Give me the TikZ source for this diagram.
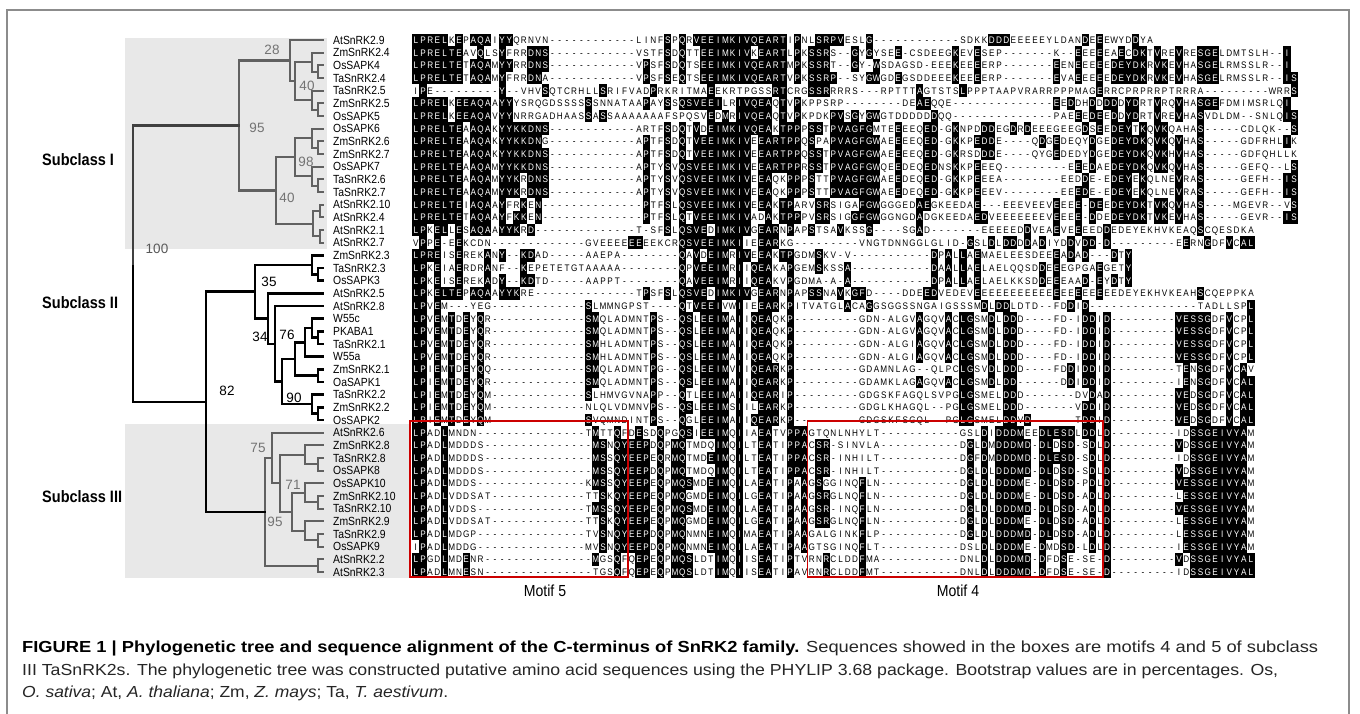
\documentclass[tikz,border=0pt]{standalone}
\usepackage{fontspec}
\usepackage{graphicx}
\setmainfont{Liberation Sans}
\newfontfamily\alnfont{Liberation Sans}[FakeStretch=0.86]
\newfontfamily\narrowfont{Liberation Sans}[FakeStretch=0.88]

\newcommand\alnw{7.2pt}
\newcommand\alnh{9.71pt}
\newcommand\alnd{2.96pt}
\newcommand\alnthresh{8}
\newcommand\alnon[1]{\hbox to \alnw{\vrule width \alnw height \alnh depth \alnd\kern-\alnw\hss\textcolor{white}{#1}\hss}}
\newcommand\alnoff[1]{\hbox to \alnw{\vrule width 0pt height \alnh depth \alnd\hss #1\hss}}

\ExplSyntaxOn
\cs_generate_variant:Nn \prop_put:Nnn { NVV }
\seq_new:N \g_aln_rows_seq
\str_new:N \l_aln_row_str
\seq_new:N \l_aln_segs_seq
\seq_new:N \l_aln_pair_seq
\int_new:N \g_aln_ncol_int
\int_new:N \l_aln_target_int
\int_new:N \l_aln_max_int
\int_new:N \l_aln_col_int
\tl_new:N \l_aln_best_tl
\tl_new:N \l_aln_ch_tl
\tl_new:N \l_aln_cnt_tl
\prop_new:N \l_aln_cnt_prop
\NewDocumentCommand \alnrow { m }
 {
  \str_clear:N \l_aln_row_str
  \seq_set_split:Nnn \l_aln_segs_seq { , } { #1 }
  \seq_map_inline:Nn \l_aln_segs_seq
   {
    \seq_set_split:Nnn \l_aln_pair_seq { / } { ##1 }
    \int_set:Nn \l_aln_target_int { \seq_item:Nn \l_aln_pair_seq { 1 } }
    \int_while_do:nNnn { \str_count:N \l_aln_row_str } < { \l_aln_target_int }
     { \str_put_right:Nn \l_aln_row_str { - } }
    \str_put_right:Nx \l_aln_row_str { \seq_item:Nn \l_aln_pair_seq { 2 } }
   }
  \seq_gput_right:NV \g_aln_rows_seq \l_aln_row_str
  \int_compare:nNnT { \str_count:N \l_aln_row_str } > { \g_aln_ncol_int }
   { \int_gset:Nn \g_aln_ncol_int { \str_count:N \l_aln_row_str } }
 }
\NewDocumentCommand \alncompute { }
 {
  \int_step_inline:nn { \g_aln_ncol_int }
   {
    \prop_clear:N \l_aln_cnt_prop
    \int_zero:N \l_aln_max_int
    \tl_clear:N \l_aln_best_tl
    \seq_map_inline:Nn \g_aln_rows_seq
     {
      \tl_set:Nx \l_aln_ch_tl { \str_item:nn { ####1 } { ##1 } }
      \tl_if_empty:NF \l_aln_ch_tl
       {
        \str_if_eq:VnF \l_aln_ch_tl { - }
         {
          \prop_get:NVNF \l_aln_cnt_prop \l_aln_ch_tl \l_aln_cnt_tl
           { \tl_set:Nn \l_aln_cnt_tl { 0 } }
          \tl_set:Nx \l_aln_cnt_tl { \int_eval:n { \l_aln_cnt_tl + 1 } }
          \prop_put:NVV \l_aln_cnt_prop \l_aln_ch_tl \l_aln_cnt_tl
          \int_compare:nNnT { \l_aln_cnt_tl } > { \l_aln_max_int }
           {
            \int_set:Nn \l_aln_max_int { \l_aln_cnt_tl }
            \tl_set_eq:NN \l_aln_best_tl \l_aln_ch_tl
           }
         }
       }
     }
    \tl_gclear_new:c { g_aln_cons_ ##1 _tl }
    \int_compare:nNnT { \l_aln_max_int } > { \alnthresh - 1 }
     { \tl_gset_eq:cN { g_aln_cons_ ##1 _tl } \l_aln_best_tl }
   }
 }
\NewDocumentCommand \alnshow { m }
 {
  \str_set:Nx \l_aln_row_str { \seq_item:Nn \g_aln_rows_seq { #1 } }
  \int_zero:N \l_aln_col_int
  \str_map_inline:Nn \l_aln_row_str
   {
    \int_incr:N \l_aln_col_int
    \tl_set_eq:Nc \l_aln_best_tl { g_aln_cons_ \int_use:N \l_aln_col_int _tl }
    \str_if_eq:nVTF { ##1 } \l_aln_best_tl
     { \alnon { ##1 } }
     { \alnoff { ##1 } }
   }
 }
\ExplSyntaxOff

% ---------- alignment data (col/text) ----------
\alnrow{0/LPRELKEPAQAIYYQRNVN,31/LINFSPQRVEEI,43/MKIVQEARTIPNLSRPVESLG,76/SDKKDDDE,84/EEEEYLDANDEEEWYDDYA}
\alnrow{0/LPRELTEAVQLSYFRRDNS,31/VSTFSDQTTEEI,43/MKIVKEARTLPKSSRS,61/GYGYSEE,69/CSDEEGKEVESEP,89/K,92/EEEEEAECDKTVREVRESGELDMTSLH,121/I}
\alnrow{0/LPRELTETAQAMYYRRDNS,31/VPSFSDQTSEEI,43/MKIVQEARTMPKSSRT,61/GY,64/WSDAGSD,72/EEEKEEEERP,89/EENEEEEEDEYDKRVKEVHASGELRMSSLR,121/I}
\alnrow{0/LPRELTETAQAMYFRRDNA,31/VPSFSEQTSEEI,43/MKIVQEARTVPKSSRP,61/SYGWGDEGSDDEEEKEEEERP,89/EVAEEEEEDEYDKRVKEVHASGELRMSSLR,121/IS}
\alnrow{0/IPE,12/Y,15/VHVSQTCRHLLSRIFVADPRKRITMAEE,43/KRTPGSSRTCRGSSRRRRS,65/RPTTTAGTSTSLPPPTAAPVRARRPPPMAGERRCPRPRRPTRRRA,119/WRRS}
\alnrow{0/LPRELKEEAQAAYYYSRQGDSSSSSSNNATAAPAYSSQSVEEI,43/LRIVQEAQTVPKPPSRP,68/DEAEQQE,89/EEDDHDDDDDYDRTVRQVHASGEFDMIMSRLQI}
\alnrow{0/LPRELKEEAQAVYYNRRGADHAASSASSAAAAAAAFSPQSVED,43/MRIVQEAQTVPKPDKPVSGYGWGTDDDDDDQQ,89/PAEEEDEEDDYDRTVREVHASVDLDM,117/SNLQIS}
\alnrow{0/LPRELTEAAQAKYYKKDNS,31/ARTFSDQTVDEI,43/MKIVQEAKTPPPSSTPVAGFGMTEEEEQED,74/GKNPDDDEGDRDEEEGEEGDSEEDEYTKQVKQAHAS,115/CDLQK,122/S}
\alnrow{0/LPRELTEAAQAKYYKKDNG,31/APTFSDQTVEEI,43/MKIVEEARTPPQSPAPVAGFGWAEEEEQED,74/GKKPEDDE,86/QDGEDEQYDGEDEYDKQVKQVHAS,115/GDFRHLIK}
\alnrow{0/LPRELTEAAQAKYYKKDNS,31/APTFSDQTVEEI,43/MKIVEEARTPPQSSTPVAGFGWAEEEEQED,74/GKRSDDDE,86/QYGEDEDYDGEDEYDKQVKHVHAS,115/GDFQHLLK}
\alnrow{0/LPRELTEAAQAMYYKKDNS,31/APTYSVQSVEEI,43/MKIVEEARTPPRSSTPVAGFGWQEEDEQEDNSKKPEEEQ,91/EEEDAEDEYDKQVKQVHAS,115/GEFQ,121/LS}
\alnrow{0/LPRELTEAAQAMYYKRDNS,31/APTYSVQSVEEI,43/MKIVEEAQKPPPSTTPVAGFGWAEEDEQED,74/GKKPEEEA,90/EEDDE-EDEYEKQLNEVRAS,115/GEFH,121/IS}
\alnrow{0/LPRELTEAAQAMYYKRDNS,31/APTYSVQSVEEI,43/MKIVEEAQKPPPSTTPVAGFGWAEEDEQED,74/GKKPEEEV,90/EEEDE-EDEYEKQLNEVRAS,115/GEFH,121/IS}
\alnrow{0/LPRELTEIAQAAYFRKEN,32/PTFSLQSVEEI,43/MKIVEEAKTPARVSRSIGAFGWGGGEDAEGKEEDAE,82/EEEVEEVEEEE-DEEDEYDKTVKQVHAS,114/MGEVR,121/VS}
\alnrow{0/LPRELTETAQAAYFKKEN,32/PTFSLQTVEEI,43/MKIVADAKTPPPVSRSIGGFGWGGNGDADGKEEDAEDVEEE,84/EEEEVEEEE-DDEDEYDKTVKEVHAS,115/GEVR,121/IS}
\alnrow{0/LPKELLESAQAAYYKRD,31/T-SFSLQSVEDI,43/MKIVGEARNPAPSTSAVKSSG,68/SGAD,79/EEEEEDDVEAEVEEEEDDEDEYEKHVKEAQSCQESDKA}
\alnrow{0/VPPE-EEKCDN,24/GVEEEEEEEEKCRQSVEEI,43/MKIIEEARKG,62/VNGTDNNGGLGLID,77/GSLDLDDDDADIYDDVDD-D,106/EERNGDFVCAL}
\alnrow{0/LPREISEREKANY,15/KDAD,24/AAEPA,37/QAVDEI,43/MRIVEEAKTPGDMSKV,60/V,72/DPALLAEMAELEESDEEEADAD,97/DTY}
\alnrow{0/LPKEIAERDRANF,15/KEPETETGTAAAAA,37/QPVEEI,43/MRIIQEAKAPGEMSKSSA,72/DAALLAELAELQQSDDEEEGPGAEGETY}
\alnrow{0/LPKEISEREKADY,15/KDTD,24/AAPPT,37/QAVEEI,43/MRIIQEAKVPGDMA-A-A,72/DPALLAELAELKKSDDEEEAAD-EYDTY}
\alnrow{0/LPKELTEPAQAAYYKRE,31/TPSFSLQSVEDI,43/MKIVGEARNPAPSSNAVKGFD,68/DDEEDVEDEVEEEEEE,84/EEEEEEEEEEEEEEDEYEKHVKEAHSCQEPPKA}
\alnrow{0/LPVEM,8/YEG,24/SLMMNGPST,37/QTVEEI,43/VWIIEEARKPITVATGLACAGGSGGSSNGAIGSSSMDLDDL,84/DTD--FDDID,109/TADLLSPL}
\alnrow{0/LPVEMTDEYQR,24/SMQLADMNTPS,37/QSLEEI,43/MAIIQEAQKP,62/GDN-ALGVAGQVACLGSMDLDDD,89/FD-IDDID,106/VESSGDFVCPL}
\alnrow{0/LPVEMTDEYQR,24/SMQLADMNTPS,37/QSLEEI,43/MAIIQEAQKP,62/GDN-ALGVAGQVACLGSMDLDDD,89/FD-IDDID,106/VESSGDFVCPL}
\alnrow{0/LPVEMTDEYQR,24/SMHLADMNTPS,37/QSLEEI,43/MAIIQEAQKP,62/GDN-ALGIAGQVACLGSMDLDDD,89/FD-IDDID,106/VESSGDFVCPL}
\alnrow{0/LPVEMTDEYQR,24/SMHLADMNTPS,37/QSLEEI,43/MAIIQEAQKP,62/GDN-ALGIAGQVACLGSMDLDDD,89/FD-IDDID,106/VESSGDFVCPL}
\alnrow{0/LPIEMTDEYQQ,24/SMQLADMNTPG,37/QSLEEI,43/MVIIQEARKP,62/GDAMNLAG--QLPCLGSVDLDDD,89/FDDIDDID,106/TENSGDFVCAV}
\alnrow{0/LPIEMTDEYQR,24/SMQLADMNTPS,37/QSLEEI,43/MAIIQEARKP,62/GDAMKLAGAGQVACLGSMDLDD,90/DDIDDID,106/IENSGDFVCAL}
\alnrow{0/LPIEMTDEYQM,24/SLHMVGVNAPP,37/QTLEEI,43/MAIIQEARIP,62/GDGSKFAGQLSVPGLGSMELDDD,92/DVDAD,106/VEDSGDFVCAL}
\alnrow{0/LPIEMTDEYQM,24/NLQLVDMNVPS,37/QSLEEI,43/MSIILEARKP,62/GDGLKHAGQL--PGLGSMELDDD,92/VDDID,106/VEDSGDFVCAL}
\alnrow{0/LPIEMTDEYQM,24/SVQMNDINTPS,37/QGLEEI,43/MAIIQEARKP,62/GDGSKFSGQL--PGLGSMELDDVD,92/TDDID,106/VEDSGDFVCAL}
\alnrow{0/LPADLMNDN,24/TMTTQFDESDQPGQSIEEI,43/MQIIAEATVPPAGTQNLNHYLT,76/GSLDIDDDMEEDLESDLDDLD,106/IDSSGEIVYAM}
\alnrow{0/LPADLMDDDS,25/MSNQYEEPDQPMQTMDQI,43/MQILTEATIPPACSR-SINVLA,76/DGLDMDDDMD-DLDSD-SDLD,106/VDSSGEIVYAM}
\alnrow{0/LPADLMDDDS,25/MSSQYEEPEQRMQTMDEI,43/MQILTEATIPPACSR-INHILT,76/DGFDMDDDMD-DLESD-SDLD,106/IDSSGEIVYAM}
\alnrow{0/LPADLMDDDS,25/MSSQYEEPDQPMQTMDQI,43/MQILTEATIPPACSR-INHILT,76/DGLDLDDDMD-DLDSD-SDLD,106/VDSSGEIVYAM}
\alnrow{0/LPADLMDDS,24/KMSSQYEEPEQPMQSMDEI,43/MQILAEATIPAAGSGGINQFLN,76/DGLDLDDDME-DLDSD-PDLD,106/VESSGEIVYAM}
\alnrow{0/LPADLVDDSAT,24/TTSKQYEEPEQPMQGMDEI,43/MQILGEATIPAAGSRGLNQFLN,76/DGLDLDDDME-DLDSD-ADLD,106/LESSGEIVYAM}
\alnrow{0/LPADLVDDS,24/TMSSQYEEPEQPMQSMDEI,43/MQILAEATIPAAGSR-INQFLN,76/DGLDLDDDMD-DLDSD-ADLD,106/VESSGEIVYAM}
\alnrow{0/LPADLVDDSAT,24/TTSKQYEEPEQPMQGMDEI,43/MQILGEATIPAAGSRGLNQFLN,76/DGLDLDDDME-DLDSD-ADLD,106/LESSGEIVYAM}
\alnrow{0/LPADLMDGP,24/TVSNQYEEPDQPMQNMNEI,43/MQIMAEATIPAAGALGINKFLP,76/DGLDLDDDMD-DLDSD-ADLD,106/LESSGEIVYAM}
\alnrow{0/IPADLMDDG,24/MVSNQYEEPDQPMQNMNEI,43/MQILAEATIPAAGTSGINQFLT,76/DSLDLDDDME-DMDSD-LDLD,106/IESSGEIVYAM}
\alnrow{0/LPGDLMDENR,25/MGSQFQEPEQPMQSLDTI,43/MQIISEATIPTVRNRCLDDFMA,76/DNLDLDDDMD-DFDSE-SE-D,106/VDSSGEIVYAL}
\alnrow{0/LPADLMNESN,25/TGSQFQEPEQPMQSLDTI,43/MQIISEATIPAVRNRCLDDFMT,76/DNLDLDDDMD-DFDSE-SE-D,106/IDSSGEIVYAL}
\alncompute

\tikzset{
  brI/.style={draw=black!62, line width=2.2pt, line cap=rect},
  brII/.style={draw=black, line width=2.6pt, line cap=rect},
  taxon/.style={anchor=west, inner sep=0pt, font=\narrowfont\fontsize{11.8}{12}\selectfont},
  alnline/.style={anchor=west, inner sep=0pt, font=\alnfont\fontsize{9.5}{10}\selectfont},
  bsI/.style={inner sep=0pt, text=black!55, font=\fontsize{13.5}{14}\selectfont},
  bsII/.style={inner sep=0pt, text=black, font=\fontsize{13.5}{14}\selectfont},
  subcl/.style={anchor=west, inner sep=0pt, font=\narrowfont\bfseries\fontsize{16.5}{17}\selectfont},
  motifbox/.style={draw=red!80!black, line width=1.2pt, inner sep=0pt},
  motiflbl/.style={inner sep=0pt, font=\narrowfont\fontsize{16}{17}\selectfont},
  capline/.style={anchor=base west, inner sep=0pt, text=black!85, font=\fontsize{16}{17}\selectfont},
  shade/.style={fill=black!9, draw=none},
  framec/.style={draw=black!45, line width=1.5pt}
}

\begin{document}
\begin{tikzpicture}[x=1pt, y=-1pt, line join=miter]
\useasboundingbox (0,0) rectangle (1360,713);
\fill[white] (0,0) rectangle (1360,713);

% subclass shading
\fill[shade] (125,38) rectangle (327,249);
\fill[shade] (125,424) rectangle (410,578);

% leaves, labels, alignment rows
\foreach \i/\nm in {1/AtSnRK2.9,2/ZmSnRK2.4,3/OsSAPK4,4/TaSnRK2.4,5/TaSnRK2.5,6/ZmSnRK2.5,7/OsSAPK5,8/OsSAPK6,9/ZmSnRK2.6,10/ZmSnRK2.7,11/OsSAPK7,12/TaSnRK2.6,13/TaSnRK2.7,14/AtSnRK2.10,15/AtSnRK2.4,16/AtSnRK2.1,17/AtSnRK2.7,18/ZmSnRK2.3,19/TaSnRK2.3,20/OsSAPK3,21/AtSnRK2.5,22/AtSnRK2.8,23/W55c,24/PKABA1,25/TaSnRK2.1,26/W55a,27/ZmSnRK2.1,28/OaSAPK1,29/TaSnRK2.2,30/ZmSnRK2.2,31/OsSAPK2,32/AtSnRK2.6,33/ZmSnRK2.8,34/TaSnRK2.8,35/OsSAPK8,36/OsSAPK10,37/ZmSnRK2.10,38/TaSnRK2.10,39/ZmSnRK2.9,40/TaSnRK2.9,41/OsSAPK9,42/AtSnRK2.2,43/AtSnRK2.3}
{
  \pgfmathsetmacro\yy{40+(\i-1)*12.6667}
  \coordinate (l\i) at (323,\yy);
  \node[taxon] (t\i) at (333,\yy) {\nm};
  \node[alnline] (r\i) at (412,\yy) {\alnshow{\i}};
}

% internal nodes
\coordinate (b1) at (318,71.67);  \coordinate (a1) at (312,62.17);
\coordinate (b2) at (318,109.67); \coordinate (a2) at (312,100.17);
\coordinate (c1) at (295,81.17);  \coordinate (d1) at (290,60.58);
\coordinate (e1) at (318,147.67); \coordinate (f1) at (312,138.17);
\coordinate (e2) at (318,185.67); \coordinate (f2) at (312,176.17);
\coordinate (g1) at (295,157.17);
\coordinate (h1) at (320,211);    \coordinate (h2) at (320,236.33);
\coordinate (i1) at (313,223.67); \coordinate (j1) at (276,190.42);
\coordinate (k1) at (239,125.5);
\coordinate (A2) at (318,274.33); \coordinate (A1) at (312,264.83);
\coordinate (G2) at (318,337.67); \coordinate (G1) at (312,328.17);
\coordinate (E1) at (305,342.42); \coordinate (J1) at (318,375.67);
\coordinate (I1) at (295,359.04); \coordinate (K2) at (318,413.67);
\coordinate (K1) at (312,404.17); \coordinate (L1) at (282,381.6);
\coordinate (C1) at (275,343.8);  \coordinate (B1) at (268,318.6);
\coordinate (N2) at (255,291.7);
\coordinate (T1) at (318,464.33); \coordinate (T2) at (305,454.83);
\coordinate (U1) at (318,502.33); \coordinate (U2) at (305,492.83);
\coordinate (V1) at (318,540.33); \coordinate (V2) at (305,530.83);
\coordinate (S1) at (292,511.83); \coordinate (R1) at (280,483.33);
\coordinate (P1) at (272,458);    \coordinate (Q1) at (318,565.67);
\coordinate (N3) at (265,511.83);
\coordinate (m) at (206,401.8);   \coordinate (root) at (133,263.6);

% branches
\foreach \p/\c in {b1/l3,b1/l4,a1/l2,a1/b1,b2/l6,b2/l7,a2/l5,a2/b2,c1/a1,c1/a2,d1/l1,d1/c1,
  e1/l9,e1/l10,f1/l8,f1/e1,e2/l12,e2/l13,f2/l11,f2/e2,g1/f1,g1/f2,h1/l14,h1/l15,h2/l16,h2/l17,
  i1/h1,i1/h2,j1/g1,j1/i1,k1/d1,k1/j1,
  T1/l34,T1/l35,T2/l33,T2/T1,U1/l37,U1/l38,U2/l36,U2/U1,V1/l40,V1/l41,V2/l39,V2/V1,
  S1/U2,S1/V2,R1/T2,R1/S1,P1/l32,P1/R1,Q1/l42,Q1/l43,N3/P1,N3/Q1}
  \draw[brI] (\p) |- (\c);
\foreach \p/\c in {A2/l19,A2/l20,A1/l18,A1/A2,G2/l24,G2/l25,G1/l23,G1/G2,E1/G1,E1/l26,
  J1/l27,J1/l28,I1/E1,I1/J1,K2/l30,K2/l31,K1/l29,K1/K2,L1/I1,L1/K1,C1/l22,C1/L1,
  B1/l21,B1/C1,N2/A1,N2/B1,m/N2,m/N3,root/m}
  \draw[brII] (\p) |- (\c);
\draw[brII, draw=black!75] (root) |- (k1);

% bootstrap values
\node[bsI] (bs28) at (272,50) {28};
\node[bsI] (bs40a) at (307,86) {40};
\node[bsI] (bs95a) at (257,128) {95};
\node[bsI] (bs98) at (306,162) {98};
\node[bsI] (bs40b) at (287,198) {40};
\node[bsI, text=black!65] (bs100) at (157,249) {100};
\node[bsII] (bs35) at (269,282) {35};
\node[bsII] (bs34) at (260,337) {34};
\node[bsII] (bs76) at (287,335) {76};
\node[bsII] (bs82) at (227,391) {82};
\node[bsII] (bs90) at (294,398) {90};
\node[bsI] (bs75) at (258,448) {75};
\node[bsI] (bs71) at (293,485) {71};
\node[bsI] (bs95b) at (275,522) {95};

% subclass labels
\node[subcl] (sc1) at (42,160) {Subclass I};
\node[subcl] (sc2) at (42,303) {Subclass II};
\node[subcl] (sc3) at (42,497) {Subclass III};

% motif boxes
\node[motifbox, minimum width=218pt, minimum height=156pt] (box5) at (519,499) {};
\node[motifbox, minimum width=295.5pt, minimum height=156pt] (box4) at (955.25,499) {};
\node[motiflbl] (mot5) at (545,591) {Motif 5};
\node[motiflbl] (mot4) at (958,591) {Motif 4};

% caption
\node[capline] (cap1) at (22,652) {\resizebox{1296pt}{\height}{{\bfseries\color{black}FIGURE 1 | Phylogenetic tree and sequence alignment of the C-terminus of SnRK2 family.} Sequences showed in the boxes are motifs 4 and 5 of subclass}};
\node[capline] (cap2) at (22,675) {\resizebox{1256pt}{\height}{III TaSnRK2s. The phylogenetic tree was constructed putative amino acid sequences using the PHYLIP 3.68 package. Bootstrap values are in percentages. Os,}};
\node[capline] (cap3) at (22,697) {\resizebox{426pt}{\height}{\textit{O. sativa}; At, \textit{A. thaliana}; Zm, \textit{Z. mays}; Ta, \textit{T. aestivum}.}};

% frame
\draw[framec] (7,730) -- (7,10) -- (1349,10) -- (1349,730);
\end{tikzpicture}
\end{document}
